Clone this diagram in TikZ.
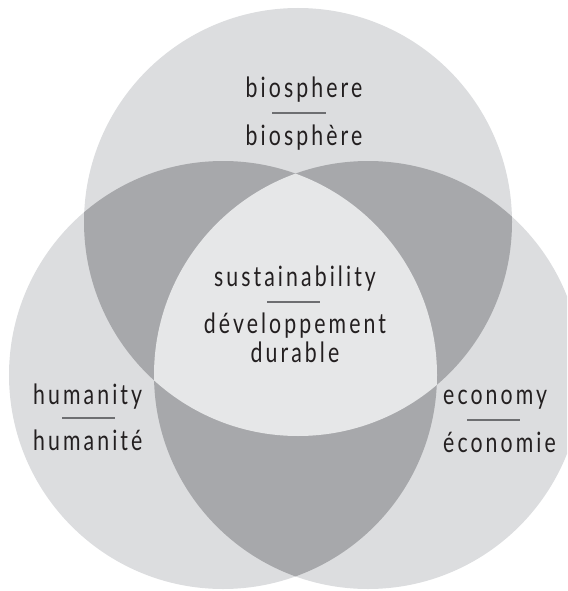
\documentclass[tikz,border=0pt]{standalone}
\usepackage{fontspec}
\setmainfont{Lato}[FakeStretch=0.76, LetterSpace=11]
\definecolor{single}{HTML}{DCDDDF}
\definecolor{pair}{HTML}{A7A8AB}
\definecolor{triple}{HTML}{E6E7E8}
\definecolor{txt}{HTML}{231F20}
\definecolor{rulec}{HTML}{6D6E71}
\begin{document}
\begin{tikzpicture}[x=1pt,y=-1pt,
  lbl/.style={inner sep=0pt, text=txt, font=\fontsize{28}{32}\selectfont},
  sep/.style={draw=rulec, line width=1.8pt}]
\useasboundingbox (0,0) rectangle (567,591);
\clip (0,0) rectangle (567,591);
\coordinate (T) at (298,222);
\coordinate (L) at (223,375);
\coordinate (R) at (368,375);
% single circles
\fill[single] (T) circle[radius=214pt] (L) circle[radius=214pt] (R) circle[radius=214pt];
% pairwise
\begin{scope}
  \clip (T) circle[radius=214pt];
  \fill[pair] (L) circle[radius=214pt] (R) circle[radius=214pt];
\end{scope}
\begin{scope}
  \clip (L) circle[radius=214pt];
  \fill[pair] (R) circle[radius=214pt];
\end{scope}
% triple
\begin{scope}
  \clip (T) circle[radius=214pt];
  \clip (L) circle[radius=214pt];
  \fill[triple] (R) circle[radius=214pt];
\end{scope}
% labels
\node[lbl, anchor=base] (bio1) at (304,98) {biosphere};
\draw[sep] (272,113) -- (326,113);
\node[lbl, anchor=base] (bio2) at (304,145) {biosphère};

\node[lbl, anchor=base] (sus1) at (295,286) {sustainability};
\draw[sep] (267,302) -- (320,302);
\node[lbl, anchor=base] (sus2) at (295,333) {développement};
\node[lbl, anchor=base] (sus3) at (295,362) {durable};

\node[lbl, anchor=base west] (hum1) at (33,404) {humanity};
\draw[sep] (62,418) -- (115,418);
\node[lbl, anchor=base west] (hum2) at (33,450) {humanité};

\node[lbl, anchor=base west] (eco1) at (443,404) {economy};
\draw[sep] (467,420) -- (520,420);
\node[lbl, anchor=base west] (eco2) at (443,452) {économie};
\end{tikzpicture}
\end{document}
